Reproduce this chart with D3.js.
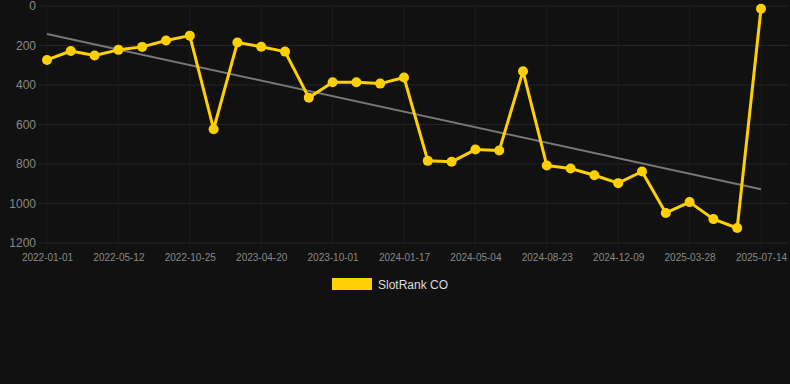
<!DOCTYPE html>
<html>
<head>
<meta charset="utf-8">
<script src="https://cdn.jsdelivr.net/npm/d3@7"></script>
<style>
  html, body { margin: 0; padding: 0; background: #111111; }
  svg { display: block; font-family: "Liberation Sans", Arial, sans-serif; }
</style>
</head>
<body>
<svg id="chart"></svg>
<script>
// Posiciones en el ranking de SlotRank CO (menor es mejor)
const fechas = [
  "2022-01-01", "2022-02-14", "2022-03-29", "2022-05-12", "2022-07-06", "2022-08-30",
  "2022-10-25", "2022-12-18", "2023-02-24", "2023-04-20", "2023-06-11", "2023-08-06",
  "2023-10-01", "2023-11-07", "2023-12-12", "2024-01-17", "2024-02-22", "2024-03-28",
  "2024-05-04", "2024-06-10", "2024-07-17", "2024-08-23", "2024-09-28", "2024-11-03",
  "2024-12-09", "2025-01-14", "2025-02-20", "2025-03-28", "2025-05-04", "2025-06-08",
  "2025-07-14"
];
const ranking = [
  273, 228, 251, 222, 207, 175, 150, 624, 185, 206,
  231, 464, 386, 386, 393, 362, 784, 789, 727, 732,
  330, 808, 823, 857, 897, 838, 1048, 993, 1079, 1124,
  14
];
const y_ticks = [0, 200, 400, 600, 800, 1000, 1200];
const serie_nombre = "SlotRank CO";

const svg_w = 790;
const svg_h = 384;
const margin = {l:47, r:29, t:6, b:141};
const viz_w = svg_w - margin.l - margin.r;
const viz_h = svg_h - margin.t - margin.b;

const svg = d3.select("#chart")
  .attr("width", svg_w)
  .attr("height", svg_h);

svg.append("rect")
  .attr("width", svg_w)
  .attr("height", svg_h)
  .attr("fill", "#111111");

let x_scale = d3.scalePoint()
  .domain(fechas)
  .range([0, viz_w]);

let y_scale = d3.scaleLinear()
  .domain([0, 1200])
  .range([0, viz_h]);

let g = svg.append("g")
  .attr("transform", `translate(${margin.l},${margin.t})`);

// lineas de la grilla
let etiquetas_x = fechas.filter((d, i) => i % 3 == 0);

g.append("g")
  .selectAll("line")
  .data(y_ticks)
  .enter().append("line")
  .attr("x1", -8)
  .attr("x2", viz_w + 28)
  .attr("y1", d => y_scale(d))
  .attr("y2", d => y_scale(d))
  .attr("stroke", "#252525")
  .attr("stroke-width", 1);

g.append("g")
  .selectAll("line")
  .data(etiquetas_x)
  .enter().append("line")
  .attr("x1", d => x_scale(d))
  .attr("x2", d => x_scale(d))
  .attr("y1", 0)
  .attr("y2", viz_h + 6)
  .attr("stroke", "#1d1d1d")
  .attr("stroke-width", 1);

// ejes
let y_axis = g.append("g")
  .call(d3.axisLeft(y_scale).tickValues(y_ticks).tickFormat(d3.format("d")).tickSize(0).tickPadding(11));
y_axis.select(".domain").remove();
y_axis.selectAll("text")
  .attr("fill", "#888888")
  .attr("font-size", 12);

let x_axis = g.append("g")
  .attr("transform", `translate(0,${viz_h})`)
  .call(d3.axisBottom(x_scale).tickValues(etiquetas_x).tickSize(0).tickPadding(11));
x_axis.select(".domain").remove();
x_axis.selectAll("text")
  .attr("fill", "#888888")
  .attr("font-size", 10);

// linea de tendencia (regresion lineal sobre los datos)
let idx = ranking.map((d, i) => i);
let mx = d3.mean(idx), my = d3.mean(ranking);
let pendiente = d3.sum(idx, i => (i - mx) * (ranking[i] - my)) / d3.sum(idx, i => (i - mx) * (i - mx));
let intercepto = my - pendiente * mx;
let n = ranking.length - 1;

g.append("line")
  .attr("x1", x_scale(fechas[0]))
  .attr("y1", y_scale(intercepto))
  .attr("x2", x_scale(fechas[n]))
  .attr("y2", y_scale(intercepto + pendiente * n))
  .attr("stroke", "#777777")
  .attr("stroke-width", 2);

// serie principal
let linea = d3.line()
  .x((d, i) => x_scale(fechas[i]))
  .y(d => y_scale(d));

g.append("path")
  .datum(ranking)
  .attr("d", linea)
  .attr("fill", "none")
  .attr("stroke", "#FFD000")
  .attr("stroke-width", 3)
  .attr("stroke-linejoin", "round");

g.append("g")
  .selectAll("circle")
  .data(ranking)
  .enter().append("circle")
  .attr("cx", (d, i) => x_scale(fechas[i]))
  .attr("cy", d => y_scale(d))
  .attr("r", 5)
  .attr("fill", "#FFD000");

// leyenda
let leyenda = svg.append("g")
  .attr("transform", "translate(332,278)");
leyenda.append("rect")
  .attr("width", 40)
  .attr("height", 12)
  .attr("fill", "#FFD000");
leyenda.append("text")
  .attr("x", 46)
  .attr("y", 10.5)
  .attr("fill", "#dddddd")
  .attr("font-size", 12)
  .text(serie_nombre);
</script>
</body>
</html>
